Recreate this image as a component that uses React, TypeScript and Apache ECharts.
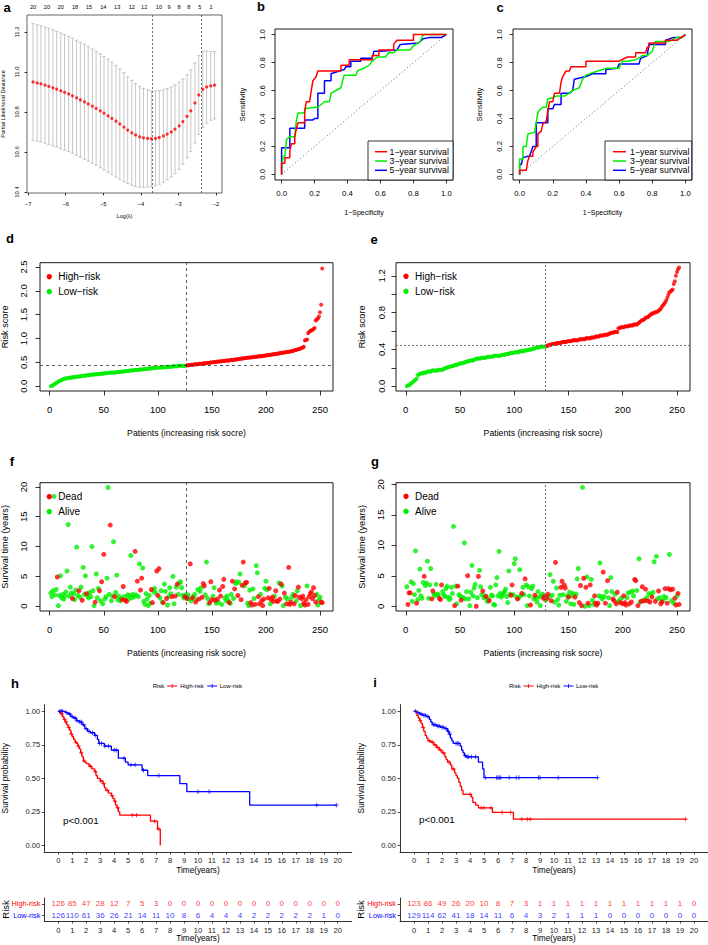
import React, { useEffect, useRef } from "react";
import * as echarts from "echarts";

const FONT = "'Liberation Sans', Arial, Helvetica, sans-serif";
const RED = "#FF0000";
const GREEN = "#00EE00";
const BLUE = "#0000FF";

// ---------- panel a: LASSO cross-validation ----------
const lassoLogLambda = [-6.87,-6.76,-6.66,-6.55,-6.45,-6.34,-6.24,-6.13,-6.03,-5.92,-5.82,-5.71,-5.61,-5.50,-5.40,-5.29,-5.19,-5.08,-4.98,-4.87,-4.77,-4.66,-4.56,-4.45,-4.35,-4.24,-4.14,-4.03,-3.93,-3.82,-3.72,-3.61,-3.51,-3.40,-3.30,-3.19,-3.09,-2.98,-2.88,-2.77,-2.67,-2.56,-2.46,-2.35,-2.25,-2.14,-2.04];
const lassoDevMean = [10.950,10.945,10.941,10.934,10.928,10.921,10.914,10.906,10.898,10.890,10.881,10.871,10.861,10.851,10.840,10.829,10.818,10.806,10.794,10.781,10.768,10.754,10.740,10.724,10.709,10.696,10.685,10.676,10.671,10.668,10.666,10.668,10.673,10.680,10.689,10.700,10.714,10.731,10.752,10.778,10.806,10.845,10.885,10.913,10.925,10.931,10.934];
const lassoDevSe = [0.292,0.291,0.291,0.290,0.290,0.290,0.289,0.289,0.289,0.288,0.288,0.288,0.287,0.287,0.286,0.286,0.285,0.285,0.284,0.283,0.281,0.279,0.276,0.272,0.267,0.262,0.257,0.252,0.247,0.243,0.240,0.237,0.234,0.231,0.228,0.225,0.222,0.218,0.213,0.208,0.204,0.200,0.197,0.190,0.180,0.172,0.168];
const lassoDfPos = [-6.87,-6.50,-6.13,-5.75,-5.38,-5.00,-4.63,-4.24,-3.91,-3.52,-3.25,-2.98,-2.72,-2.43,-2.13];
const lassoDfLabels = ["20","20","20","18","15","14","13","12","12","10","9","8","8","5","1"];
const lambdaMinLog = -3.70;
const lambda1seLog = -2.40;

// ---------- panels b, c: time-dependent ROC ----------
const rocLabels = ["1\u2212year survival", "3\u2212year survival", "5\u2212year survival"];
const rocB1 = [[0,0],[0,0.08],[0.02,0.08],[0.02,0.12],[0.05,0.12],[0.05,0.17],[0.06,0.22],[0.08,0.22],[0.08,0.27],[0.09,0.33],[0.1,0.37],[0.14,0.37],[0.14,0.45],[0.15,0.52],[0.17,0.52],[0.18,0.6],[0.19,0.67],[0.21,0.7],[0.22,0.74],[0.36,0.74],[0.36,0.78],[0.41,0.78],[0.41,0.82],[0.55,0.82],[0.55,0.85],[0.59,0.85],[0.59,0.89],[0.68,0.89],[0.68,0.93],[0.7,0.96],[0.8,0.96],[0.8,1.0],[1,1]];
const rocB3 = [[0,0],[0,0.05],[0.01,0.13],[0.02,0.13],[0.03,0.25],[0.05,0.27],[0.08,0.27],[0.09,0.39],[0.1,0.44],[0.14,0.44],[0.14,0.47],[0.2,0.48],[0.22,0.48],[0.24,0.5],[0.26,0.52],[0.29,0.52],[0.3,0.58],[0.33,0.6],[0.36,0.62],[0.37,0.67],[0.38,0.71],[0.45,0.71],[0.46,0.74],[0.5,0.76],[0.53,0.78],[0.55,0.81],[0.58,0.84],[0.63,0.84],[0.65,0.87],[0.68,0.87],[0.7,0.89],[0.78,0.89],[0.8,0.92],[0.84,0.95],[0.86,1.0],[1,1]];
const rocB5 = [[0,0],[0,0.19],[0.05,0.19],[0.05,0.33],[0.14,0.33],[0.14,0.39],[0.19,0.39],[0.2,0.4],[0.22,0.4],[0.22,0.58],[0.26,0.58],[0.26,0.67],[0.3,0.67],[0.3,0.72],[0.35,0.74],[0.38,0.75],[0.39,0.77],[0.42,0.77],[0.42,0.81],[0.48,0.81],[0.48,0.83],[0.55,0.83],[0.56,0.88],[0.6,0.88],[0.7,0.89],[0.72,0.93],[0.83,0.94],[0.86,0.97],[0.9,0.98],[0.97,0.98],[1,1]];
const rocC1 = [[0,0],[0,0.03],[0.04,0.03],[0.05,0.1],[0.06,0.13],[0.08,0.13],[0.08,0.16],[0.1,0.2],[0.11,0.2],[0.11,0.29],[0.13,0.31],[0.14,0.36],[0.16,0.38],[0.17,0.45],[0.18,0.52],[0.2,0.52],[0.21,0.58],[0.24,0.58],[0.25,0.66],[0.26,0.7],[0.28,0.74],[0.3,0.74],[0.31,0.77],[0.4,0.77],[0.4,0.81],[0.6,0.81],[0.65,0.84],[0.7,0.84],[0.7,0.87],[0.76,0.87],[0.77,0.91],[0.78,0.91],[0.78,0.94],[0.88,0.94],[0.88,0.96],[0.95,0.96],[1,1]];
const rocC3 = [[0,0],[0,0.11],[0.02,0.11],[0.02,0.2],[0.04,0.2],[0.05,0.29],[0.09,0.3],[0.1,0.37],[0.11,0.44],[0.12,0.46],[0.14,0.48],[0.16,0.48],[0.17,0.54],[0.2,0.55],[0.22,0.56],[0.27,0.56],[0.3,0.58],[0.32,0.6],[0.36,0.62],[0.38,0.68],[0.4,0.71],[0.47,0.74],[0.53,0.76],[0.6,0.76],[0.62,0.81],[0.65,0.81],[0.7,0.82],[0.74,0.85],[0.77,0.85],[0.8,0.88],[0.82,0.95],[0.9,0.95],[0.95,0.98],[0.98,0.98],[1,1]];
const rocC5 = [[0,0],[0,0.07],[0.01,0.07],[0.02,0.12],[0.05,0.13],[0.06,0.13],[0.08,0.2],[0.1,0.2],[0.1,0.37],[0.17,0.37],[0.17,0.47],[0.2,0.47],[0.21,0.5],[0.25,0.5],[0.25,0.58],[0.3,0.58],[0.32,0.6],[0.33,0.68],[0.4,0.7],[0.44,0.72],[0.52,0.72],[0.52,0.75],[0.59,0.76],[0.6,0.79],[0.72,0.79],[0.73,0.83],[0.77,0.85],[0.78,0.93],[0.88,0.93],[0.88,0.96],[0.93,0.98],[0.98,0.98],[1,1]];

// ---------- panels d, e: sorted risk scores ----------
const riskScoreD = [
0,.01,.02,.04,.05,.07,.08,.10,.11,.12,
.13,.14,.15,.16,.16,.17,.17,.18,.18,.18,
.19,.19,.19,.20,.20,.20,.21,.21,.21,.22,
.22,.22,.22,.23,.23,.23,.24,.24,.24,.24,
.25,.25,.25,.25,.25,.26,.26,.26,.26,.27,
.27,.27,.28,.28,.28,.28,.29,.29,.29,.29,
.29,.30,.30,.30,.30,.31,.31,.31,.31,.32,
.32,.32,.32,.33,.33,.33,.33,.34,.34,.34,
.34,.34,.35,.35,.35,.35,.36,.36,.36,.36,
.37,.37,.37,.37,.38,.38,.38,.38,.39,.39,
.39,.39,.39,.40,.40,.40,.40,.40,.41,.41,
.41,.41,.41,.42,.42,.42,.42,.42,.43,.43,
.43,.43,.43,.43,.43,.43,.44,.44,.44,.45,
.45,.45,.45,.46,.46,.46,.46,.47,.47,.47,
.47,.48,.48,.48,.48,.49,.49,.49,.50,.50,
.50,.51,.51,.51,.52,.52,.52,.52,.53,.53,
.53,.53,.54,.54,.54,.54,.55,.55,.55,.55,
.56,.56,.56,.57,.57,.57,.58,.58,.58,.59,
.59,.59,.60,.60,.60,.60,.61,.61,.61,.62,
.62,.62,.63,.63,.63,.63,.64,.64,.64,.65,
.65,.65,.66,.66,.66,.67,.67,.67,.68,.68,
.68,.69,.69,.70,.70,.70,.71,.71,.72,.72,
.72,.73,.73,.74,.74,.75,.76,.76,.77,.78,
.78,.79,.80,.81,.83,.96,.97,.98,1.11,1.14,
1.16,1.17,1.18,1.20,1.22,1.38,1.40,1.42,1.46,1.55,
1.71,2.47];
const lowCountD = 126;
const cutoffD = 0.435;

const riskScoreE = [
0,.01,.01,.02,.03,.04,.05,.06,.07,.08,
.12,.13,.13,.14,.14,.14,.15,.15,.15,.16,
.16,.16,.16,.17,.17,.17,.17,.17,.17,.18,
.18,.18,.18,.18,.19,.19,.20,.20,.21,.21,
.21,.22,.22,.22,.23,.23,.23,.24,.24,.25,
.25,.25,.25,.26,.26,.27,.27,.27,.28,.28,
.28,.28,.29,.29,.30,.30,.30,.30,.30,.31,
.31,.31,.31,.31,.32,.32,.32,.32,.32,.32,
.33,.33,.33,.33,.33,.33,.33,.34,.34,.34,
.34,.35,.35,.35,.35,.36,.36,.36,.36,.37,
.37,.37,.37,.37,.38,.38,.38,.38,.38,.39,
.39,.39,.39,.40,.40,.40,.41,.41,.41,.42,
.42,.42,.42,.43,.43,.43,.43,.43,.43,.44,
.44,.45,.45,.45,.46,.46,.46,.46,.47,.47,
.47,.47,.47,.48,.48,.48,.48,.48,.49,.49,
.49,.49,.49,.50,.50,.50,.50,.50,.50,.51,
.51,.51,.51,.51,.51,.52,.52,.52,.52,.52,
.53,.53,.53,.53,.54,.54,.54,.54,.55,.55,
.55,.55,.56,.56,.56,.56,.57,.57,.58,.58,
.58,.59,.59,.59,.59,.63,.63,.64,.64,.64,
.64,.65,.65,.65,.65,.66,.66,.66,.66,.67,
.67,.67,.67,.68,.69,.70,.71,.72,.72,.73,
.74,.75,.75,.76,.77,.78,.79,.79,.80,.80,
.81,.81,.82,.83,.84,.86,.88,.89,.91,.93,
.96,.99,1.02,1.03,1.04,1.05,1.11,1.14,1.20,1.24,
1.27,1.29];
const lowCountE = 129;
const cutoffE = 0.436;

// ---------- panels f, g: survival time & status ----------
const survTimeF = [
2.2,1.6,2.6,18.4,1.9,2.8,4.9,0.1,1.8,5.1,
1.4,2.0,1.2,1.7,2.4,5.9,13.7,1.7,3.2,2.2,
1.3,2.1,1.1,2.7,9.9,1.8,2.6,1.5,3.2,1.0,
6.5,2.0,5.1,2.1,1.7,1.4,2.3,1.6,10.0,2.6,
0.1,0.7,5.4,1.4,3.0,2.6,0.9,4.1,0.4,8.7,
1.2,1.6,4.7,19.9,2.0,13.6,0.9,1.7,10.8,1.6,
2.3,5.2,1.1,1.7,0.9,1.3,1.1,3.3,1.6,1.0,
0.8,1.9,1.2,1.8,8.5,1.4,2.0,1.6,9.2,1.9,
4.2,1.6,7.1,2.7,4.7,6.4,0.8,0.3,2.1,1.2,
0.1,1.8,0.5,2.8,0.6,2.5,3.0,2.2,5.9,1.8,
6.3,1.4,2.6,0.7,0.6,3.7,2.5,1.3,0.2,1.6,
3.1,2.1,1.6,5.0,0.4,1.7,3.2,3.7,2.0,3.9,
4.1,3.1,1.8,1.4,1.6,1.9,1.3,1.9,1.2,7.1,
0.9,1.4,1.6,2.0,0.7,1.1,2.8,1.2,2.5,3.1,
1.5,3.8,3.4,1.9,7.4,1.3,0.4,0.6,4.1,1.1,
1.7,3.1,1.0,0.5,1.2,0.7,2.7,1.7,0.3,3.3,
4.5,1.4,0.9,1.7,1.0,0.6,0.5,2.0,4.2,1.3,
2.9,3.8,4.1,1.8,4.0,5.4,1.1,3.5,7.4,3.4,
3.9,4.0,0.5,0.1,2.7,0.6,0.2,2.9,1.3,0.3,
6.8,5.6,1.6,0.4,2.0,0.9,0.1,1.2,3.0,4.2,
2.8,1.4,3.0,0.4,1.1,1.5,0.8,1.7,2.6,0.9,
0.8,3.9,1.2,3.7,3.4,0.1,2.2,1.5,0.4,1.2,
6.5,0.3,0.7,1.5,2.0,0.4,1.8,0.9,2.6,3.2,
1.5,0.1,1.3,1.7,0.5,0.2,1.1,3.4,0.3,1.6,
2.1,2.4,1.3,3.1,1.8,0.7,2.0,0.2,1.1,1.5,
0.7,0.6];
const deadF = [
0,0,0,0,0,0,1,0,0,0,
0,0,0,0,0,0,0,0,0,0,
1,0,0,0,0,0,1,0,0,1,
0,0,0,1,0,0,0,0,0,0,
0,1,0,0,0,1,0,1,0,1,
0,0,0,0,0,1,0,0,0,1,
0,0,0,0,0,0,1,1,0,1,
1,0,0,0,0,0,0,0,1,0,
1,0,0,1,1,0,0,0,0,0,
0,0,0,1,1,0,0,0,1,1,
1,0,0,0,1,0,0,1,0,0,
0,0,1,0,0,1,0,1,0,0,
0,0,0,0,1,0,1,0,0,1,
0,1,0,0,1,0,0,1,0,0,
1,1,1,0,0,0,0,1,1,1,
0,0,1,0,1,0,1,1,0,1,
1,0,0,0,0,1,0,0,1,0,
1,0,0,1,0,0,1,1,1,0,
1,1,0,0,0,1,1,0,0,1,
0,0,1,1,0,1,1,1,0,0,
0,1,1,0,1,1,1,0,1,1,
1,0,1,1,0,0,1,0,1,0,
1,1,1,0,0,1,1,0,0,1,
1,0,1,1,1,1,1,0,1,1,
1,1,1,1,1,1,0,0,0,0,
1,1];
const cutF = 126;

const survTimeG = [
3.2,0.3,2.2,2.2,4.0,0.8,3.7,1.9,9.1,0.5,
1.1,2.6,6.1,1.7,1.3,3.9,4.9,3.4,3.8,7.4,
1.3,3.5,6.2,1.2,2.5,2.0,1.7,3.6,2.0,1.9,
1.3,1.1,3.5,2.4,1.9,1.6,2.9,3.3,1.5,1.1,
1.3,3.1,2.1,13.1,0.1,3.3,0.4,3.3,1.9,1.7,
1.0,1.4,1.4,10.4,1.2,2.4,5.0,1.2,0.1,2.3,
6.7,1.7,3.0,3.6,0.0,1.4,4.9,5.9,3.2,1.9,
2.5,1.4,1.7,1.6,0.8,1.2,0.9,3.1,1.8,1.7,
0.3,0.2,3.5,4.7,1.7,9.0,2.1,1.5,1.8,2.1,
2.4,2.8,1.6,0.6,5.8,2.0,1.8,3.5,1.9,7.0,
7.8,1.5,1.2,1.4,6.0,1.7,2.1,3.1,1.9,4.5,
3.5,0.1,3.2,1.7,0.2,2.9,3.3,1.2,1.8,1.4,
0.7,2.4,1.5,0.1,1.7,2.0,1.3,1.6,1.0,1.3,
2.0,1.6,5.2,0.9,1.8,4.1,0.7,7.2,3.0,1.1,
0.2,1.8,3.1,4.1,1.9,3.5,3.0,0.8,1.7,1.5,
2.3,0.4,1.7,2.1,0.3,1.5,2.0,4.5,6.2,0.6,
3.4,0.1,19.5,4.6,0.0,3.1,4.8,0.5,0.1,3.5,
4.4,1.0,0.3,1.7,0.5,0.2,0.5,1.7,7.1,1.6,
1.2,5.6,1.6,0.5,2.4,4.2,1.4,0.1,4.7,2.4,
1.2,0.9,2.0,0.4,2.3,0.7,1.0,0.6,1.4,0.4,
1.7,0.6,0.2,1.4,2.2,0.4,2.3,0.7,2.5,1.7,
4.4,4.2,2.6,0.1,7.8,0.7,0.8,3.2,1.0,0.9,
2.8,1.4,0.9,2.1,0.7,1.9,1.5,2.3,7.3,0.8,
8.2,1.2,2.5,1.4,0.4,0.7,0.9,1.6,2.9,1.4,
0.5,2.9,8.5,2.7,0.9,2.8,0.5,1.3,0.2,1.7,
2.1,0.3];
const deadG = [
0,1,1,1,0,0,0,0,0,1,
0,0,0,0,0,0,1,0,0,0,
0,0,0,1,1,0,0,0,0,0,
1,1,1,0,0,0,0,0,0,0,
0,0,0,0,1,0,0,1,0,0,
1,0,0,0,0,0,1,0,0,0,
0,0,0,0,1,0,1,0,0,0,
1,0,0,1,0,0,1,0,0,0,
0,0,0,0,0,0,0,0,0,0,
0,0,0,0,0,0,1,1,0,0,
0,0,1,0,0,0,1,0,0,1,
0,0,0,0,1,0,0,0,1,0,
0,0,0,0,0,0,1,1,0,1,
1,0,0,1,0,0,0,1,0,0,
0,0,1,1,0,1,1,0,0,1,
0,0,0,0,0,1,0,0,0,1,
1,1,0,1,0,1,0,1,0,1,
0,0,0,1,1,1,1,0,0,0,
0,1,0,1,0,1,0,0,0,0,
1,1,0,1,1,0,0,1,0,1,
1,1,1,0,0,1,0,1,0,0,
1,1,0,1,0,0,1,1,0,1,
1,0,1,0,1,0,1,0,0,1,
0,0,1,0,1,1,0,0,1,0,
1,1,0,1,0,1,0,1,1,0,
1,1];
const cutG = 129;

// ---------- panels h, i: Kaplan-Meier ----------
const kmHighH = [[0,1],[0.1,0.99],[0.2,0.98],[0.3,0.96],[0.4,0.94],[0.5,0.92],[0.6,0.9],[0.7,0.88],[0.8,0.86],[0.9,0.83],[1.0,0.81],[1.1,0.79],[1.2,0.77],[1.3,0.76],[1.4,0.74],[1.5,0.72],[1.6,0.69],[1.7,0.66],[1.8,0.63],[1.9,0.62],[2.0,0.61],[2.2,0.59],[2.4,0.57],[2.6,0.55],[2.7,0.52],[2.8,0.5],[3.0,0.48],[3.2,0.46],[3.3,0.43],[3.4,0.41],[3.6,0.39],[3.8,0.37],[3.9,0.35],[4.0,0.33],[4.1,0.3],[4.2,0.28],[4.3,0.25],[4.4,0.225],[6.6,0.18],[7.1,0.12],[7.3,0]];
const kmHighHEnd = 7.3;
const kmHighHCensor = [0.25,0.45,0.55,0.75,0.95,1.25,1.45,1.65,1.85,2.3,2.65,3.05,3.25,3.5,3.85,4.05,4.25,5.3,5.6,6.9,7.2];
const kmLowH = [[0,1],[0.5,0.99],[0.7,0.98],[0.9,0.96],[1.1,0.95],[1.3,0.93],[1.5,0.92],[1.7,0.9],[1.9,0.87],[2.1,0.85],[2.3,0.84],[2.6,0.82],[2.8,0.79],[2.9,0.76],[3.3,0.74],[3.8,0.71],[4.3,0.65],[4.8,0.62],[5.0,0.6],[6.0,0.56],[6.4,0.52],[8.7,0.46],[9.2,0.4],[13.7,0.3]];
const kmLowHEnd = 19.9;
const kmLowHCensor = [0.1,0.2,0.3,0.6,0.8,1.0,1.2,1.35,1.55,1.65,1.8,2.0,2.2,2.45,2.65,2.95,3.1,3.35,3.6,4.0,4.15,4.7,5.2,5.5,6.1,7.2,10.0,10.8,18.5,19.9];

const kmHighI = [[0,1],[0.2,0.97],[0.3,0.95],[0.4,0.93],[0.5,0.91],[0.6,0.88],[0.7,0.85],[0.8,0.82],[0.9,0.8],[1.0,0.78],[1.2,0.77],[1.4,0.75],[1.6,0.73],[1.8,0.71],[2.0,0.69],[2.2,0.66],[2.3,0.64],[2.4,0.62],[2.6,0.6],[2.7,0.57],[2.9,0.54],[3.0,0.52],[3.1,0.5],[3.2,0.47],[3.3,0.44],[3.4,0.41],[3.5,0.38],[4.1,0.36],[4.2,0.32],[4.4,0.3],[4.6,0.28],[5.6,0.245],[7.1,0.195]];
const kmHighIEnd = 19.4;
const kmHighICensor = [0.45,0.65,1.1,1.3,1.5,1.7,1.9,2.1,2.5,2.8,4.0,4.8,5.0,5.5,6.3,6.9,7.7,8.1,8.3,19.4];
const kmLowI = [[0,1],[0.2,0.99],[0.4,0.98],[0.6,0.97],[0.9,0.96],[1.1,0.94],[1.2,0.92],[1.3,0.9],[1.6,0.89],[1.9,0.88],[2.2,0.87],[2.4,0.85],[2.5,0.83],[2.6,0.8],[2.7,0.78],[2.8,0.76],[3.3,0.74],[3.4,0.71],[3.5,0.69],[3.6,0.67],[3.7,0.66],[4.6,0.62],[4.9,0.57],[5.0,0.505]];
const kmLowIEnd = 13.1;
const kmLowICensor = [0.1,0.3,0.5,0.7,0.8,1.0,1.4,1.5,1.7,1.8,2.0,2.1,2.3,2.45,2.55,3.0,3.1,3.2,3.65,3.8,3.9,4.1,4.4,5.1,5.9,6.0,6.1,6.2,6.8,7.3,7.5,8.9,9.0,10.3,13.1];

const riskYears = [0,1,2,3,4,5,6,7,8,9,10,11,12,13,14,15,16,17,18,19,20];
const atRiskHighH = [126,85,47,28,12,7,5,3,0,0,0,0,0,0,0,0,0,0,0,0,0];
const atRiskLowH = [126,110,61,36,26,21,14,11,10,8,6,4,4,4,2,2,2,2,2,1,0];
const atRiskHighI = [123,86,49,26,20,10,8,7,3,1,1,1,1,1,1,1,1,1,1,1,0];
const atRiskLowI = [129,114,62,41,18,14,11,6,4,3,2,1,1,1,0,0,0,0,0,0,0];
const groupNames = ["Low-risk", "High-risk"];

// ---------- helpers ----------
const minus = (v: number) => (v < 0 ? "\u2212" : "") + String(Math.abs(v));
const f1 = (v: number) => v.toFixed(1);
const f2 = (v: number) => v.toFixed(2);
const str = (v: number) => String(v);

function rAxis(o: any) {
  return {
    type: "value",
    gridIndex: o.grid,
    min: o.min,
    max: o.max,
    position: o.position,
    axisLine: { show: false, onZero: false },
    axisTick: { show: o.tl > 0, inside: false, length: o.tl, customValues: o.ticks, lineStyle: { color: "#000", width: 0.8 } },
    axisLabel: {
      show: true,
      customValues: o.labels || o.ticks,
      formatter: (v: number) => o.fmt(v),
      fontSize: o.fs,
      color: "#000",
      margin: o.margin,
      rotate: o.rotate || 0,
      fontFamily: FONT,
    },
    splitLine: { show: false },
    name: o.name || "",
    nameLocation: "middle",
    nameGap: o.nameGap || 0,
    nameTextStyle: { fontSize: o.nameFs || o.fs, color: "#000", fontFamily: FONT },
  };
}

function gAxis(o: any) {
  return {
    type: "value",
    gridIndex: o.grid,
    min: o.min,
    max: o.max,
    axisLine: { show: true, onZero: false, lineStyle: { color: "#000", width: 0.8 } },
    axisTick: { show: true, length: 2.5, customValues: o.ticks, lineStyle: { color: "#000", width: 0.7 } },
    axisLabel: { customValues: o.ticks, formatter: (v: number) => o.fmt(v), fontSize: o.fs, color: "#222", margin: o.margin, fontFamily: FONT },
    splitLine: { show: false },
    name: o.name || "",
    nameLocation: "middle",
    nameGap: o.nameGap || 0,
    nameTextStyle: { fontSize: o.nameFs || o.fs, color: "#000", fontFamily: FONT },
  };
}

const boxGrid = (left: number, top: number, width: number, height: number, color = "#000") => ({
  left, top, width, height, show: true, borderColor: color, borderWidth: 0.9, backgroundColor: "transparent", containLabel: false, outerBoundsMode: "none",
});
const plainGrid = (left: number, top: number, width: number, height: number) => ({
  left, top, width, height, show: false, containLabel: false, outerBoundsMode: "none",
});

const refLines = (data: any[], color: string, dash: any, width = 0.8) => ({
  silent: true,
  symbol: ["none", "none"],
  label: { show: false },
  lineStyle: { color, type: dash, width },
  emphasis: { disabled: true },
  data,
});

const survAt = (steps: number[][], t: number) => {
  let s = 1;
  for (const st of steps) {
    if (st[0] <= t) s = st[1];
    else break;
  }
  return s;
};
const kmLine = (steps: number[][], end: number) => {
  const d = steps.map((s) => [s[0], s[1]]);
  const last = steps[steps.length - 1];
  if (end > last[0]) d.push([end, last[1]]);
  return d;
};

function txt(x: number, y: number, text: string, fs: number, o: any = {}) {
  return {
    type: "text",
    x,
    y,
    rotation: o.rot || 0,
    silent: true,
    z: 100,
    style: {
      text,
      x: 0,
      y: 0,
      fill: o.color || "#000",
      fontSize: fs,
      fontFamily: FONT,
      fontWeight: o.bold ? "bold" : "normal",
      align: o.align || "left",
      verticalAlign: "middle",
      textAlign: o.align || "left",
      textVerticalAlign: "middle",
    },
  };
}
const seg = (x1: number, y1: number, x2: number, y2: number, color: string, w = 1) => ({
  type: "line", silent: true, z: 100, shape: { x1, y1, x2, y2 }, style: { stroke: color, lineWidth: w },
});
const dot = (cx: number, cy: number, r: number, color: string) => ({
  type: "circle", silent: true, z: 100, shape: { cx, cy, r }, style: { fill: color },
});

function buildOption() {
  const rocColors = [RED, GREEN, BLUE];

  const grids = [
    boxGrid(27, 15, 195, 178, "#555"), // 0 a
    boxGrid(275, 29, 178, 151), // 1 b
    boxGrid(513, 29, 179, 151), // 2 c
    boxGrid(40, 262.7, 293, 128.3), // 3 d
    boxGrid(396, 262.7, 294, 128.3), // 4 e
    boxGrid(40, 482.7, 293, 128.3), // 5 f
    boxGrid(396, 482.7, 294, 128.3), // 6 g
    plainGrid(44.3, 704.6, 307.4, 147.4), // 7 h KM
    plainGrid(400, 704.6, 308, 147.4), // 8 i KM
    plainGrid(44.3, 898, 307.4, 23), // 9 h table
    plainGrid(400, 898, 308, 23), // 10 i table
  ];

  const tick01 = [0, 0.2, 0.4, 0.6, 0.8, 1];
  const tickPat = [0, 50, 100, 150, 200, 250];
  const patName = "Patients (increasing risk socre)";

  const xAxis: any[] = [
    rAxis({ grid: 0, min: -7.03, max: -1.84, ticks: [-7, -6, -5, -4, -3, -2], fmt: minus, fs: 5.8, tl: 2.5, margin: 7.5, name: "Log(\u03BB)", nameGap: 19.5, nameFs: 5.6 }),
    rAxis({ grid: 1, min: -0.04, max: 1.04, ticks: tick01, fmt: f1, fs: 7.8, tl: 3.5, margin: 9.5, name: "1\u2212Specificity", nameGap: 28.5, nameFs: 7 }),
    rAxis({ grid: 2, min: -0.04, max: 1.04, ticks: tick01, fmt: f1, fs: 7.8, tl: 3.5, margin: 9.5, name: "1\u2212Specificity", nameGap: 28.5, nameFs: 7 }),
    rAxis({ grid: 3, min: -9, max: 262, ticks: tickPat, fmt: str, fs: 9.5, tl: 4.5, margin: 13, name: patName, nameGap: 37, nameFs: 8.7 }),
    rAxis({ grid: 4, min: -9, max: 262, ticks: tickPat, fmt: str, fs: 9.5, tl: 4.5, margin: 13, name: patName, nameGap: 37, nameFs: 8.7 }),
    rAxis({ grid: 5, min: -9, max: 262, ticks: tickPat, fmt: str, fs: 9.5, tl: 4.5, margin: 13, name: patName, nameGap: 37, nameFs: 8.7 }),
    rAxis({ grid: 6, min: -9, max: 262, ticks: tickPat, fmt: str, fs: 9.5, tl: 4.5, margin: 13, name: patName, nameGap: 37, nameFs: 8.7 }),
    gAxis({ grid: 7, min: -1, max: 21, ticks: riskYears, fmt: str, fs: 7.6, margin: 4, name: "Time(years)", nameGap: 14, nameFs: 8.2 }),
    gAxis({ grid: 8, min: -1, max: 21, ticks: riskYears, fmt: str, fs: 7.6, margin: 4, name: "Time(years)", nameGap: 14, nameFs: 8.2 }),
    gAxis({ grid: 9, min: -1, max: 21, ticks: riskYears, fmt: str, fs: 7.6, margin: 5, name: "Time(years)", nameGap: 13.5, nameFs: 8.2 }),
    gAxis({ grid: 10, min: -1, max: 21, ticks: riskYears, fmt: str, fs: 7.6, margin: 5, name: "Time(years)", nameGap: 13.5, nameFs: 8.2 }),
    rAxis({
      grid: 0, min: -7.03, max: -1.84, position: "top", ticks: lassoDfPos, tl: 0, fs: 5.6, margin: 5,
      fmt: (v: number) => {
        const i = lassoDfPos.findIndex((p) => Math.abs(p - v) < 1e-6);
        return i >= 0 ? lassoDfLabels[i] : "";
      },
    }),
  ];

  const tableY = (grid: number) => ({
    type: "category",
    gridIndex: grid,
    data: groupNames,
    axisLine: { show: true, onZero: false, lineStyle: { color: "#000", width: 0.8 } },
    axisTick: { show: true, length: 2.5, alignWithLabel: true, lineStyle: { color: "#000", width: 0.7 } },
    axisLabel: {
      fontSize: 7.3,
      fontFamily: FONT,
      margin: 4,
      color: (v: string) => (v === "High-risk" ? RED : BLUE),
    },
    splitLine: { show: false },
  });

  const yAxis: any[] = [
    rAxis({ grid: 0, min: 10.395, max: 11.285, ticks: [10.4, 10.6, 10.8, 11.0, 11.2], fmt: f1, fs: 5.8, tl: 2.5, margin: 7.5, rotate: 90, name: "Partial Likelihood Deviance", nameGap: 21, nameFs: 5.6 }),
    rAxis({ grid: 1, min: -0.04, max: 1.04, ticks: tick01, fmt: f1, fs: 7.8, tl: 3.5, margin: 9, rotate: 90, name: "Sensitivity", nameGap: 29, nameFs: 7.4 }),
    rAxis({ grid: 2, min: -0.04, max: 1.04, ticks: tick01, fmt: f1, fs: 7.8, tl: 3.5, margin: 10, rotate: 90, name: "Sensitivity", nameGap: 30, nameFs: 7.4 }),
    rAxis({ grid: 3, min: -0.1, max: 2.59, ticks: [0, 0.5, 1, 1.5, 2, 2.5], fmt: f1, fs: 9.5, tl: 4.5, margin: 11.5, rotate: 90, name: "Risk score", nameGap: 30.5, nameFs: 9.2 }),
    rAxis({ grid: 4, min: -0.052, max: 1.342, ticks: [0, 0.2, 0.4, 0.6, 0.8, 1.0, 1.2], labels: [0, 0.4, 0.8, 1.2], fmt: f1, fs: 9.5, tl: 4.5, margin: 9.5, rotate: 90, name: "Risk score", nameGap: 29.5, nameFs: 9.2 }),
    rAxis({ grid: 5, min: -0.8, max: 20.7, ticks: [0, 5, 10, 15, 20], fmt: str, fs: 9.5, tl: 4.5, margin: 11.3, rotate: 90, name: "Survival time (years)", nameGap: 30.5, nameFs: 9.2 }),
    rAxis({ grid: 6, min: -0.78, max: 20.28, ticks: [0, 5, 10, 15, 20], fmt: str, fs: 9.5, tl: 4.5, margin: 10.5, rotate: 90, name: "Survival time (years)", nameGap: 29.5, nameFs: 9.2 }),
    gAxis({ grid: 7, min: -0.05, max: 1.05, ticks: [0, 0.25, 0.5, 0.75, 1], fmt: f2, fs: 7.6, margin: 4, name: "Survival probability", nameGap: 35, nameFs: 8.4 }),
    gAxis({ grid: 8, min: -0.05, max: 1.05, ticks: [0, 0.25, 0.5, 0.75, 1], fmt: f2, fs: 7.6, margin: 4, name: "Survival probability", nameGap: 35, nameFs: 8.4 }),
    tableY(9),
    tableY(10),
  ];

  const series: any[] = [];

  // a
  series.push({
    type: "custom",
    xAxisIndex: 0,
    yAxisIndex: 0,
    silent: true,
    z: 1,
    encode: { x: 0, y: [1, 2] },
    data: lassoLogLambda.map((x, i) => [x, lassoDevMean[i] - lassoDevSe[i], lassoDevMean[i] + lassoDevSe[i]]),
    renderItem: (params: any, api: any) => {
      const x = api.value(0);
      const p1 = api.coord([x, api.value(2)]);
      const p2 = api.coord([x, api.value(1)]);
      const w = 1.7;
      const st = { stroke: "#b8b8b8", lineWidth: 0.8 };
      return {
        type: "group",
        children: [
          { type: "line", shape: { x1: p1[0], y1: p1[1], x2: p2[0], y2: p2[1] }, style: st },
          { type: "line", shape: { x1: p1[0] - w, y1: p1[1], x2: p1[0] + w, y2: p1[1] }, style: st },
          { type: "line", shape: { x1: p2[0] - w, y1: p2[1], x2: p2[0] + w, y2: p2[1] }, style: st },
        ],
      };
    },
  });
  series.push({
    type: "scatter",
    xAxisIndex: 0,
    yAxisIndex: 0,
    symbolSize: 3.2,
    itemStyle: { color: RED },
    silent: true,
    z: 3,
    data: lassoLogLambda.map((x, i) => [x, lassoDevMean[i]]),
    markLine: refLines([{ xAxis: lambdaMinLog }, { xAxis: lambda1seLog }], "#333", [2, 2], 0.7),
  });

  // b, c
  const rocSets = [
    [rocB1, rocB3, rocB5],
    [rocC1, rocC3, rocC5],
  ];
  rocSets.forEach((set, k) => {
    series.push({
      type: "line",
      xAxisIndex: 1 + k,
      yAxisIndex: 1 + k,
      data: [[0, 0], [1, 1]],
      showSymbol: false,
      silent: true,
      lineStyle: { color: "#444", width: 0.8, type: [1, 2.5] },
      z: 1,
    });
    set.forEach((d, j) => {
      series.push({
        type: "line",
        name: rocLabels[j],
        xAxisIndex: 1 + k,
        yAxisIndex: 1 + k,
        data: d,
        showSymbol: false,
        silent: true,
        lineStyle: { color: rocColors[j], width: 1.5 },
        z: 2 + (2 - j),
      });
    });
  });

  // d, e
  const riskPanels = [
    { v: riskScoreD, low: lowCountD, cut: cutoffD, ax: 3, lc: "#333", dash: [3, 3], lw: 0.8 },
    { v: riskScoreE, low: lowCountE, cut: cutoffE, ax: 4, lc: "#777", dash: [2, 2], lw: 1.1 },
  ];
  riskPanels.forEach((p) => {
    series.push({
      type: "scatter",
      xAxisIndex: p.ax,
      yAxisIndex: p.ax,
      symbolSize: 4,
      itemStyle: { color: GREEN },
      silent: true,
      data: p.v.slice(0, p.low).map((v, i) => [i + 1, v]),
    });
    series.push({
      type: "scatter",
      xAxisIndex: p.ax,
      yAxisIndex: p.ax,
      symbolSize: 4,
      itemStyle: { color: RED },
      silent: true,
      data: p.v.slice(p.low).map((v, i) => [i + 1 + p.low, v]),
      markLine: refLines([{ xAxis: p.low }, { yAxis: p.cut }], p.lc, p.dash, p.lw),
    });
  });

  // f, g
  const survPanels = [
    { t: survTimeF, d: deadF, cut: cutF, ax: 5, lc: "#333", dash: [3, 3], lw: 0.8 },
    { t: survTimeG, d: deadG, cut: cutG, ax: 6, lc: "#777", dash: [2, 2], lw: 1.1 },
  ];
  survPanels.forEach((p) => {
    const dead: number[][] = [];
    const alive: number[][] = [];
    p.t.forEach((t, i) => (p.d[i] ? dead : alive).push([i + 1, t]));
    series.push({
      type: "scatter",
      xAxisIndex: p.ax,
      yAxisIndex: p.ax,
      symbolSize: 5,
      itemStyle: { color: GREEN },
      silent: true,
      data: alive,
      markLine: refLines([{ xAxis: p.cut }], p.lc, p.dash, p.lw),
    });
    series.push({
      type: "scatter",
      xAxisIndex: p.ax,
      yAxisIndex: p.ax,
      symbolSize: 5,
      itemStyle: { color: RED },
      silent: true,
      data: dead,
    });
  });

  // h, i KM
  const kmPanels = [
    { ax: 7, curves: [
      { s: kmLowH, end: kmLowHEnd, c: kmLowHCensor, col: BLUE },
      { s: kmHighH, end: kmHighHEnd, c: kmHighHCensor, col: RED },
    ] },
    { ax: 8, curves: [
      { s: kmLowI, end: kmLowIEnd, c: kmLowICensor, col: BLUE },
      { s: kmHighI, end: kmHighIEnd, c: kmHighICensor, col: RED },
    ] },
  ];
  kmPanels.forEach((p) => {
    p.curves.forEach((c) => {
      series.push({
        type: "line",
        xAxisIndex: p.ax,
        yAxisIndex: p.ax,
        step: "end",
        showSymbol: false,
        silent: true,
        data: kmLine(c.s, c.end),
        lineStyle: { color: c.col, width: 1.3 },
        z: 2,
      });
      series.push({
        type: "scatter",
        xAxisIndex: p.ax,
        yAxisIndex: p.ax,
        symbol: "path://M5,0L5,10M0,5L10,5",
        symbolSize: 4.5,
        silent: true,
        itemStyle: { color: "rgba(0,0,0,0)", borderColor: c.col, borderWidth: 0.9 },
        data: c.c.map((t) => [t, survAt(c.s, t)]),
        z: 3,
      });
    });
  });

  // risk tables
  const tables = [
    { ax: 9, high: atRiskHighH, low: atRiskLowH },
    { ax: 10, high: atRiskHighI, low: atRiskLowI },
  ];
  tables.forEach((tb) => {
    [
      { vals: tb.high, row: 1, col: RED },
      { vals: tb.low, row: 0, col: BLUE },
    ].forEach((r) => {
      series.push({
        type: "scatter",
        xAxisIndex: tb.ax,
        yAxisIndex: tb.ax,
        symbolSize: 1,
        silent: true,
        itemStyle: { color: "rgba(0,0,0,0)" },
        data: r.vals.map((n, i) => [riskYears[i], r.row, n]),
        label: {
          show: true,
          position: "inside",
          formatter: (pp: any) => String(pp.value[2]),
          color: r.col,
          fontSize: 8,
          fontFamily: FONT,
        },
      });
    });
  });

  // graphics
  const g: any[] = [];
  const letters: [string, number, number][] = [
    ["a", 7, 7], ["b", 261, 6.5], ["c", 500, 7], ["d", 10, 238], ["e", 374, 239],
    ["f", 12, 461], ["g", 375, 461], ["h", 15, 683], ["i", 375, 682],
  ];
  letters.forEach(([t, x, y]) => g.push(txt(x, y, t, 13, { bold: true, align: "center" })));

  // ROC legends
  const rocLeg = [
    { x: 368, w: 85, lx1: 375, lx2: 387, tx: 389.5 },
    { x: 605, w: 86.7, lx1: 613, lx2: 626, tx: 630 },
  ];
  rocLeg.forEach((L) => {
    g.push({ type: "rect", silent: true, z: 99, shape: { x: L.x, y: 141, width: L.w, height: 39 }, style: { fill: "#fff", stroke: "#000", lineWidth: 0.8 } });
    rocLabels.forEach((lab, j) => {
      const yy = 151.7 + 9.3 * j;
      g.push(seg(L.lx1, yy, L.lx2, yy, rocColors[j], 1.5));
      g.push(txt(L.tx, yy, lab, 8.8));
    });
  });

  // d-g legends
  const ptLeg = [
    { x: 49.3, y: 276.7, a: "High\u2212risk", b: "Low\u2212risk" },
    { x: 406, y: 276.3, a: "High\u2212risk", b: "Low\u2212risk" },
    { x: 49.3, y: 496.7, a: "Dead", b: "Alive" },
    { x: 406, y: 496.3, a: "Dead", b: "Alive" },
  ];
  ptLeg.forEach((L) => {
    g.push(dot(L.x, L.y, 2.7, RED));
    g.push(txt(L.x + 9, L.y, L.a, 10));
    g.push(dot(L.x, L.y + 15, 2.7, GREEN));
    g.push(txt(L.x + 9, L.y + 15, L.b, 10));
  });

  // KM legends
  const kmLeg = [{ x: 152.7 }, { x: 509 }];
  kmLeg.forEach((L) => {
    const y = 686;
    const x0 = L.x;
    g.push(txt(x0, y, "Risk", 6));
    g.push(seg(x0 + 14.5, y, x0 + 24.5, y, RED, 1));
    g.push(seg(x0 + 19.5, y - 2, x0 + 19.5, y + 2, RED, 0.8));
    g.push(txt(x0 + 27.5, y, "High-risk", 6));
    g.push(seg(x0 + 54.5, y, x0 + 64.5, y, BLUE, 1));
    g.push(seg(x0 + 59.5, y - 2, x0 + 59.5, y + 2, BLUE, 0.8));
    g.push(txt(x0 + 67, y, "Low-risk", 6));
  });

  g.push(txt(63, 820, "p<0.001", 9.8));
  g.push(txt(419, 819, "p<0.001", 9.8));
  g.push(txt(5.5, 909.5, "Risk", 9.5, { rot: Math.PI / 2, align: "center" }));
  g.push(txt(360.5, 909.5, "Risk", 9.5, { rot: Math.PI / 2, align: "center" }));

  return {
    animation: false,
    backgroundColor: "#fff",
    textStyle: { fontFamily: FONT },
    grid: grids,
    xAxis,
    yAxis,
    series,
    graphic: { elements: g },
  };
}

export default function App() {
  const ref = useRef<HTMLDivElement>(null);
  useEffect(() => {
    if (!ref.current) return;
    const chart = echarts.init(ref.current, undefined, { renderer: "svg" });
    chart.setOption(buildOption() as any);
    return () => chart.dispose();
  }, []);
  return (
    <div
      ref={ref}
      style={{ position: "fixed", left: 0, top: 0, width: 708, height: 945, background: "#fff" }}
    />
  );
}
